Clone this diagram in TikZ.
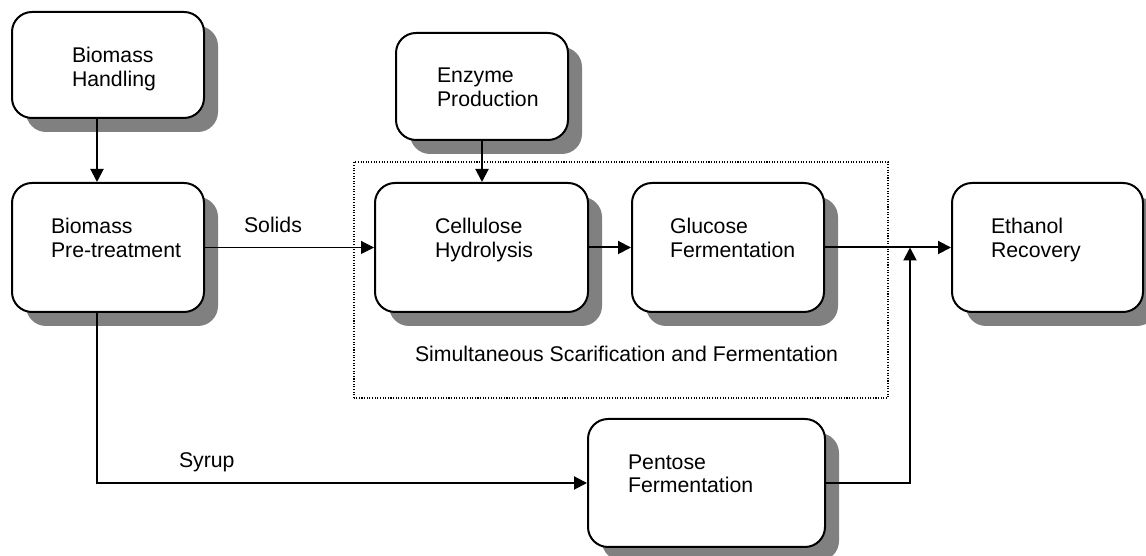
\documentclass[tikz,border=0pt]{standalone}
\usepackage{fontspec}
\setmainfont{Liberation Sans}
\usepackage{tikz}
\usetikzlibrary{arrows.meta,shadows,calc}

\begin{document}
\begin{tikzpicture}
[>={Triangle[length=0.26cm,width=0.26cm]},line width=0.04cm,
stage/.style={draw,rounded corners=0.4cm,fill=white,
  drop shadow={shadow xshift=0.28cm,shadow yshift=-0.28cm,opacity=1,fill=black!50}},
tag/.style={anchor=north west,inner sep=0pt,align=left,font=\fontsize{12.1}{13.5}\selectfont},
note/.style={anchor=base west,inner sep=0pt,font=\fontsize{12.1}{13.5}\selectfont}]
\useasboundingbox (0,0) rectangle (22.92,11.12);
% SSF frame
\draw[line width=0.6pt,dash pattern=on 0.6pt off 0.9pt] (7.08,3.16) rectangle (17.76,7.88);
\draw (8.28,3.88) node[note] (ssf) {Simultaneous Scarification and Fermentation};
% process steps
\draw (2.16,9.82) node[stage,minimum width=3.84cm,minimum height=2.12cm] (hand) {};
\draw (2.16,6.17) node[stage,minimum width=3.84cm,minimum height=2.58cm] (pre) {};
\draw (9.64,9.39) node[stage,minimum width=3.44cm,minimum height=2.14cm] (enz) {};
\draw (9.63,6.17) node[stage,minimum width=4.26cm,minimum height=2.58cm] (cell) {};
\draw (14.56,6.17) node[stage,minimum width=3.84cm,minimum height=2.58cm] (gluc) {};
\draw (20.95,6.17) node[stage,minimum width=3.82cm,minimum height=2.58cm] (eth) {};
\draw (14.13,1.46) node[stage,minimum width=4.74cm,minimum height=2.56cm] (pent) {};
% labels inside the steps
\draw ([shift={(1.2,-0.7)}]hand.north west) node[tag] (handtxt) {Biomass\\Handling};
\draw ([shift={(0.78,-0.7)}]pre.north west) node[tag] (pretxt) {Biomass\\Pre-treatment};
\draw ([shift={(0.82,-0.7)}]enz.north west) node[tag] (enztxt) {Enzyme\\Production};
\draw ([shift={(1.2,-0.7)}]cell.north west) node[tag] (celltxt) {Cellulose\\Hydrolysis};
\draw ([shift={(0.76,-0.7)}]gluc.north west) node[tag] (gluctxt) {Glucose\\Fermentation};
\draw ([shift={(0.78,-0.7)}]eth.north west) node[tag] (ethtxt) {Ethanol\\Recovery};
\draw ([shift={(0.8,-0.71)}]pent.north west) node[tag] (penttxt) {Pentose\\Fermentation};
% streams
\draw (4.86,6.46) node[note] (solids) {Solids};
\draw (3.56,1.76) node[note] (syrup) {Syrup};
\coordinate (join) at (18.2,6.17);
\draw[->]([xshift=-0.22cm]hand.south)--([xshift=-0.22cm]pre.north);
\draw[->,line width=0.6pt](pre.east)--(cell.west);
\draw[->](enz.south)--(enz.south |- cell.north);
\draw[->](cell.east)--(gluc.west);
\draw[->](gluc.east)--(eth.west);
\draw[->]([xshift=-0.22cm]pre.south)|-(pent.west);
\draw[->](pent.east)-|(join);
\end{tikzpicture}
\end{document}
